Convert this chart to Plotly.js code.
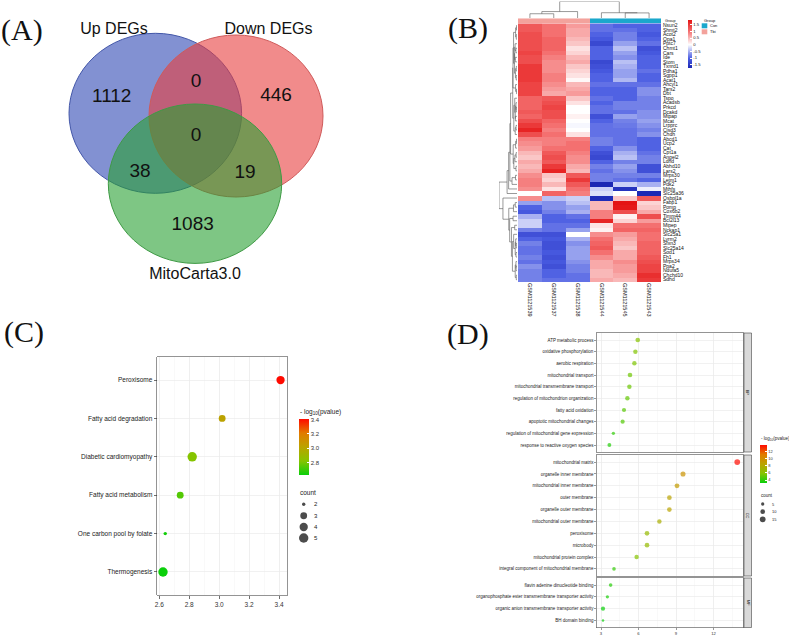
<!DOCTYPE html>
<html><head><meta charset="utf-8">
<script src="https://cdn.plot.ly/plotly-3.0.1.min.js"></script>
<style>html,body{margin:0;padding:0;background:#fff}#chart{width:789px;height:635px}</style>
</head><body><div id="chart"></div>
<script>
// ---------------- DATA ----------------
// Panel A: Venn
const vennSets = ['Up DEGs', 'Down DEGs', 'MitoCarta3.0'];
const vennRegions = ['Up only', 'Up∩Down', 'Down only', 'All three', 'Up∩Mito', 'Down∩Mito', 'Mito only'];
const vennCounts = [1112, 0, 446, 0, 38, 19, 1083];

// Panel B: heatmap
const samples = ['GSM1121539', 'GSM1121537', 'GSM1121538', 'GSM1121544', 'GSM1121545', 'GSM1121543'];
const sampleGroups = ['Tbi', 'Tbi', 'Tbi', 'Con', 'Con', 'Con'];
const genes = ['Nsun2','Shmt2','Acot2','Opa1','Pptc7','Chmt1','Cars','Ide','Stom','Txnrd1','Pdha1','Sgpp1','Acat1','Ahcyl1','Tars2','Dbt','Tspo','Acadsb','Prkcd','Dcakd','Mtpap','Mcat','Lrpprc','Cisd3','Chdh','Abcd1','Ucp2','Cat','Cpt1a','Angel2','Ldhd','Abhd10','Lars2','Mrps30','Letm1','Pdk2','Mthfs','Slc25a36','Osbpl1a','Fabp1','Pomp','Cox6b2','Timm44','Bcl2l13','Mipep','Nckap1','Slc25a1','Lyrm2','Sfxn3','Slc25a14','Sod1','Fh1','Mrps34','Ppa2','Ndufa5','Chchd10','Sdhd'];
const expr = [
 [1.2,1.0,0.7,-0.9,-1.0,-1.0],[1.2,1.0,0.6,-0.9,-0.9,-1.0],[1.3,1.0,0.6,-1.0,-0.8,-1.1],[1.3,1.1,0.5,-1.1,-0.8,-1.0],
 [1.3,1.1,0.4,-1.3,-0.6,-0.9],[1.3,1.1,0.2,-1.0,-0.4,-1.2],[1.4,1.0,0.3,-1.0,-0.6,-1.1],[1.3,0.9,0.5,-1.0,-0.7,-1.0],
 [1.3,0.8,0.6,-1.3,-0.4,-1.0],[1.5,0.8,0.4,-1.2,-0.5,-1.0],[1.5,0.8,0.3,-1.1,-0.6,-0.9],[1.5,0.9,0.2,-1.0,-0.6,-1.0],
 [1.5,0.9,0.05,-1.0,-0.45,-1.0],[1.4,0.8,0.5,-0.9,-0.9,-0.9],[1.4,0.7,0.6,-1.0,-1.0,-0.7],[1.4,0.6,0.7,-1.0,-1.0,-0.7],
 [1.1,1.2,0.4,-0.9,-1.0,-0.8],[1.1,1.3,0.2,-1.0,-0.8,-0.8],[1.1,1.4,0.0,-0.9,-0.8,-0.8],[1.2,1.3,0.0,-0.9,-0.9,-0.7],
 [1.1,1.3,0.1,-1.2,-0.6,-0.7],[1.3,1.1,0.0,-1.0,-0.8,-0.6],[1.5,1.0,-0.05,-0.9,-0.85,-0.7],[1.7,0.9,0.0,-0.9,-0.9,-0.8],
 [1.3,1.0,0.2,-0.9,-0.9,-0.7],[0.9,0.9,0.9,-0.8,-0.9,-1.0],[0.8,0.9,1.0,-0.8,-0.9,-1.0],[0.7,1.0,1.0,-1.0,-0.7,-1.0],
 [0.5,1.2,0.9,-1.2,-0.5,-0.9],[0.4,1.3,0.8,-1.3,-0.4,-0.8],[0.6,1.2,0.8,-1.0,-0.8,-0.8],[0.5,1.5,0.6,-0.8,-0.6,-1.2],
 [0.6,1.7,0.5,-0.9,-0.7,-1.2],[0.8,0.4,1.2,-0.8,-0.8,-0.8],[0.9,0.3,1.5,-0.8,-0.9,-1.0],[0.9,0.5,1.2,-1.8,-0.3,-0.5],
 [0.8,0.2,1.0,-0.3,-1.6,-0.1],[0.0,1.1,0.9,-0.2,0.0,-1.8],[0.8,-0.4,-0.3,-1.7,0.4,1.2],[-0.6,-0.7,-0.4,0.5,1.9,0.3],
 [-1.0,-0.7,-0.6,0.5,1.8,0.4],[-1.1,-0.8,-0.5,0.9,1.3,0.6],[-0.5,-1.0,-0.9,0.9,0.1,1.3],[-0.3,-1.0,-1.0,1.7,0.3,0.7],
 [-0.3,-0.9,-0.9,0.2,1.0,1.0],[-0.8,-0.9,-0.6,0.1,1.1,1.1],[-1.2,-1.2,0.0,0.8,0.7,1.0],[-1.0,-1.1,-0.5,1.0,0.6,1.0],
 [-0.8,-1.2,-0.7,1.1,0.5,1.1],[-0.9,-1.2,-0.6,1.2,0.4,1.1],[-0.9,-1.1,-0.6,1.0,0.6,1.1],[-0.8,-1.2,-0.6,0.8,0.6,1.2],
 [-0.9,-1.1,-0.7,0.6,0.8,1.3],[-0.7,-1.2,-0.8,0.6,0.7,1.4],[-0.8,-1.0,-0.8,0.5,0.7,1.4],[-0.8,-1.0,-0.9,0.5,0.6,1.6],
 [-0.8,-0.9,-0.9,0.6,0.5,1.5]
];
const heatTicks = [-1.5, -1, -0.5, 0, 0.5, 1, 1.5];

// Panel C: KEGG
const keggTerms = ['Peroxisome','Fatty acid degradation','Diabetic cardiomyopathy','Fatty acid metabolism','One carbon pool by folate','Thermogenesis'];
const keggLogP = [3.41, 3.02, 2.82, 2.74, 2.64, 2.625];
const keggCount = [4, 3, 5, 3, 2, 5];
const keggCountBreaks = [2, 3, 4, 5];
const keggTicks = [2.6, 2.8, 3.0, 3.2, 3.4];
const keggColorTicks = [2.8, 3.0, 3.2, 3.4];

// Panel D: GO
const bpTerms = ['ATP metabolic process','oxidative phosphorylation','aerobic respiration','mitochondrial transport','mitochondrial transmembrane transport','regulation of mitochondrion organization','fatty acid oxidation','apoptotic mitochondrial changes','regulation of mitochondrial gene expression','response to reactive oxygen species'];
const bpLogP = [5.94, 5.75, 5.67, 5.32, 5.27, 5.11, 4.84, 4.73, 3.99, 3.67];
const bpCount = [10, 9, 9, 10, 9, 9, 8, 8, 5, 7];
const ccTerms = ['mitochondrial matrix','organelle inner membrane','mitochondrial inner membrane','outer membrane','organelle outer membrane','mitochondrial outer membrane','peroxisome','microbody','mitochondrial protein complex','integral component of mitochondrial membrane'];
const ccLogP = [13.9, 9.56, 9.08, 8.47, 8.47, 7.67, 6.68, 6.68, 5.85, 4.04];
const ccCount = [15, 12, 11, 10, 10, 9, 10, 10, 9, 6];
const mfTerms = ['flavin adenine dinucleotide binding','organophosphate ester transmembrane transporter activity','organic anion transmembrane transporter activity','BH domain binding'];
const mfLogP = [3.77, 3.51, 3.16, 3.16];
const mfCount = [6, 5, 8, 3];
const goFacets = ['BP', 'CC', 'MF'];
const goCountBreaks = [5, 10, 15];
const goTicks = [3, 6, 9, 12];
const goColorTicks = [4, 6, 8, 10, 12];

// ---------------- GEOMETRY / STYLE ----------------
const W = 789, H = 635;
const px = v => v / W, py = v => 1 - v / H;
const FONT = 'Liberation Sans, Arial, sans-serif';
const SERIF = 'Liberation Serif, Times New Roman, serif';

const vennGeom = [
  {cx:155.3, cy:113.3, rx:86.3, ry:80, fill:'rgba(47,72,180,0.6)', line:'#4256a8'},
  {cx:236, cy:116, rx:87, ry:81, fill:'rgba(232,62,62,0.6)', line:'#cf5a5a'},
  {cx:195, cy:183.7, rx:86.7, ry:79.7, fill:'rgba(40,160,50,0.6)', line:'#3f9a45'}
];
const vennSetPos = [[114, 29.5], [268.5, 29.5], [195, 275]];
const vennRegionPos = [[111.7, 97.3], [196, 82.7], [276, 96.7], [196, 136], [140, 172.3], [245, 173.3], [192.7, 225]];

const greenRed = [[0,'#0ACF0A'],[0.25,'#86C400'],[0.5,'#BBA300'],[0.75,'#E27A00'],[1,'#FF0A00']];
const heatScale = [[0,'#1C28B4'],[0.2,'#4B5DE2'],[0.486,'#FFFFFF'],[0.78,'#F36868'],[1,'#E41414']];
const conCol = '#1BA8CC', tbiCol = '#F3A29C';

// ---------------- HELPERS ----------------
function dendro(vectors) {
  const dist = (a, b) => Math.sqrt(a.reduce((s, x, k) => s + (x - b[k]) ** 2, 0));
  let cl = vectors.map((v, i) => ({m: [i], pos: i, h: 0}));
  const P = [], Hh = [];
  let maxH = 0;
  while (cl.length > 1) {
    let best = 0, bd = Infinity;
    for (let i = 0; i < cl.length - 1; i++) {
      let d = 0;
      for (const p of cl[i].m) for (const q of cl[i + 1].m) d = Math.max(d, dist(vectors[p], vectors[q]));
      if (d < bd) { bd = d; best = i; }
    }
    const A = cl[best], B = cl[best + 1];
    const h = Math.max(bd, A.h, B.h);
    P.push(A.pos, A.pos, B.pos, B.pos, null);
    Hh.push(A.h, h, h, B.h, null);
    maxH = Math.max(maxH, h);
    cl.splice(best, 2, {m: A.m.concat(B.m), pos: (A.pos + B.pos) / 2, h});
  }
  return {pos: P, h: Hh, maxH};
}
const idx = n => Array.from({length: n}, (_, i) => i);
const rev = n => Array.from({length: n}, (_, i) => n - 1 - i);
const keggSize = c => 3.4 + 6 * Math.sqrt((c - 2) / 3);
const goSize = c => 1.48 * Math.sqrt(c);

// ---------------- TRACES ----------------
const traces = [];
const shapes = [];
const ann = [];

// Panel A
vennGeom.forEach(g => shapes.push({type:'circle', xref:'x', yref:'y', x0:g.cx-g.rx, x1:g.cx+g.rx, y0:g.cy-g.ry, y1:g.cy+g.ry,
  fillcolor:g.fill, line:{color:g.line, width:1}, layer:'below'}));
traces.push({type:'scatter', mode:'text', xaxis:'x', yaxis:'y', x:vennRegionPos.map(p=>p[0]), y:vennRegionPos.map(p=>p[1]),
  text:vennCounts.map(String), textfont:{family:FONT, size:19, color:'#111'}, hoverinfo:'skip'});
traces.push({type:'scatter', mode:'text', xaxis:'x', yaxis:'y', x:vennSetPos.map(p=>p[0]), y:vennSetPos.map(p=>p[1]),
  text:vennSets, textfont:{family:FONT, size:16, color:'#111'}, hoverinfo:'skip'});

// Panel B heatmap
traces.push({type:'heatmap', xaxis:'x2', yaxis:'y2', x:idx(samples.length), y:idx(genes.length), z:expr,
  coloraxis:'coloraxis3', hoverinfo:'skip'});
traces.push({type:'heatmap', xaxis:'x2', yaxis:'y3', x:idx(samples.length), y:[0], z:[sampleGroups.map(g => g === 'Tbi' ? 1 : 0)],
  colorscale:[[0,conCol],[0.5,conCol],[0.5,tbiCol],[1,tbiCol]], zmin:0, zmax:1, showscale:false, hoverinfo:'skip'});
const rowD = dendro(expr);
traces.push({type:'scatter', mode:'lines', xaxis:'x5', yaxis:'y2', x:rowD.h, y:rowD.pos, line:{color:'#555', width:0.6}, hoverinfo:'skip', connectgaps:false});
const cols = idx(samples.length).map(j => expr.map(r => r[j]));
const colD = dendro(cols);
traces.push({type:'scatter', mode:'lines', xaxis:'x2', yaxis:'y4', x:colD.pos, y:colD.h, line:{color:'#555', width:0.6}, hoverinfo:'skip', connectgaps:false});

// Panel C
traces.push({type:'scatter', mode:'markers', xaxis:'x6', yaxis:'y6', x:keggLogP, y:rev(keggTerms.length),
  marker:{size:keggCount.map(keggSize), color:keggLogP, coloraxis:'coloraxis', line:{width:0}, opacity:1}, hoverinfo:'skip'});

// Panel D
[[bpLogP, bpCount, 'x7', 'y7'], [ccLogP, ccCount, 'x8', 'y8'], [mfLogP, mfCount, 'x9', 'y9']].forEach(([v, c, xa, ya]) => {
  traces.push({type:'scatter', mode:'markers', xaxis:xa, yaxis:ya, x:v, y:rev(v.length),
    marker:{size:c.map(goSize), color:v, coloraxis:'coloraxis2', line:{width:0}}, hoverinfo:'skip'});
});

// Size legends
const kLegY = [504.3, 515.7, 527, 538];
traces.push({type:'scatter', mode:'markers', xaxis:'x', yaxis:'y', x:keggCountBreaks.map(()=>303.7), y:kLegY,
  marker:{size:keggCountBreaks.map(keggSize), color:'#000', line:{width:0}}, hoverinfo:'skip'});
keggCountBreaks.forEach((b, i) => ann.push({xref:'x', yref:'y', x:311.5, y:kLegY[i], text:String(b), showarrow:false, xanchor:'left', yanchor:'middle', font:{family:FONT, size:6, color:'#222'}}));
ann.push({xref:'x', yref:'y', x:297.5, y:492.5, text:'count', showarrow:false, xanchor:'left', yanchor:'middle', font:{family:FONT, size:6.5, color:'#222'}});
ann.push({xref:'x', yref:'y', x:297.5, y:412.3, text:'- log<sub>10</sub>(pvalue)', showarrow:false, xanchor:'left', yanchor:'middle', font:{family:FONT, size:6.5, color:'#222'}});

const gLegY = [504, 511.7, 519.3];
traces.push({type:'scatter', mode:'markers', xaxis:'x', yaxis:'y', x:goCountBreaks.map(()=>762.7), y:gLegY,
  marker:{size:goCountBreaks.map(goSize), color:'#000', line:{width:0}}, hoverinfo:'skip'});
goCountBreaks.forEach((b, i) => ann.push({xref:'x', yref:'y', x:769.5, y:gLegY[i], text:String(b), showarrow:false, xanchor:'left', yanchor:'middle', font:{family:FONT, size:4, color:'#222'}}));
ann.push({xref:'x', yref:'y', x:758.8, y:495.7, text:'count', showarrow:false, xanchor:'left', yanchor:'middle', font:{family:FONT, size:4.5, color:'#222'}});
ann.push({xref:'x', yref:'y', x:758.8, y:439.3, text:'- log<sub>10</sub>(pvalue)', showarrow:false, xanchor:'left', yanchor:'middle', font:{family:FONT, size:4.5, color:'#222'}});

// Group legend (heatmap)
ann.push({xref:'x', yref:'y', x:662.5, y:20.8, text:'Group', showarrow:false, xanchor:'left', yanchor:'middle', font:{family:FONT, size:3.8, color:'#111'}});
ann.push({xref:'x', yref:'y', x:701.5, y:20.5, text:'Group', showarrow:false, xanchor:'left', yanchor:'middle', font:{family:FONT, size:4, color:'#111'}});
[['Con', conCol, 23.3], ['Tbi', tbiCol, 29.3]].forEach(([t, c, y]) => {
  shapes.push({type:'rect', xref:'x', yref:'y', x0:701.7, x1:707.3, y0:y, y1:y+5, fillcolor:c, line:{width:0}});
  ann.push({xref:'x', yref:'y', x:708, y:y+2.6, text:t, showarrow:false, xanchor:'left', yanchor:'middle', font:{family:FONT, size:4, color:'#111'}});
});

// Facet strips
const stripRows = [[333, 452], [455, 576], [578, 627.5]];
goFacets.forEach((f, i) => {
  const [a, b] = stripRows[i];
  shapes.push({type:'rect', xref:'x', yref:'y', x0:744, x1:751.5, y0:a, y1:b, fillcolor:'#D9D9D9', line:{color:'#444', width:0.6}});
  ann.push({xref:'x', yref:'y', x:747.8, y:(a+b)/2, text:f, textangle:90, showarrow:false, xanchor:'center', yanchor:'middle', font:{family:FONT, size:4, color:'#1a1a1a'}});
});

// Panel letters
[['(A)', 21.5, 30], ['(B)', 467.5, 28], ['(C)', 23.5, 332], ['(D)', 467.5, 334]].forEach(([t, x, y]) =>
  ann.push({xref:'x', yref:'y', x, y, text:t, showarrow:false, xanchor:'center', yanchor:'middle', font:{family:SERIF, size:30, color:'#111'}}));

// ---------------- LAYOUT ----------------
const hidden = {visible:false, fixedrange:true};
const bwAxis = (extra) => Object.assign({showline:true, mirror:true, linecolor:'#666', linewidth:0.7, zeroline:false,
  gridcolor:'#EBEBEB', gridwidth:0.7, fixedrange:true}, extra);

const layout = {
  width:W, height:H, margin:{l:0, r:0, t:0, b:0}, paper_bgcolor:'#fff', plot_bgcolor:'rgba(0,0,0,0)',
  showlegend:false, font:{family:FONT, color:'#222'},
  xaxis:Object.assign({domain:[0,1], range:[0,W], anchor:'y'}, hidden),
  yaxis:Object.assign({domain:[0,1], range:[H,0], anchor:'x'}, hidden),
  // heatmap
  xaxis2:{domain:[px(518), px(661)], range:[-0.5, samples.length-0.5], anchor:'y2', tickmode:'array', tickvals:idx(samples.length), ticktext:samples,
    tickangle:90, ticks:'', showgrid:false, zeroline:false, showline:false, tickfont:{family:FONT, size:5.5, color:'#111'}, fixedrange:true},
  yaxis2:{domain:[py(282), py(23.3)], range:[genes.length-0.5, -0.5], anchor:'x2', side:'right', tickmode:'array', tickvals:idx(genes.length), ticktext:genes,
    ticks:'', showgrid:false, zeroline:false, showline:false, tickfont:{family:FONT, size:5, color:'#111'}, fixedrange:true, ticklabelstandoff:1},
  yaxis3:Object.assign({domain:[py(23.3), py(18.3)], range:[-0.5, 0.5], anchor:'x2'}, hidden),
  yaxis4:Object.assign({domain:[py(18), py(1.5)], range:[0, colD.maxH], anchor:'x2'}, hidden),
  xaxis5:Object.assign({domain:[px(499), px(517)], range:[rowD.maxH, 0], anchor:'y2'}, hidden),
  // KEGG
  xaxis6:bwAxis({domain:[px(157.3), px(287)], range:[2.587, 3.453], anchor:'y6', tickmode:'array', tickvals:keggTicks, ticktext:keggTicks.map(v=>v.toFixed(1)),
    ticks:'outside', ticklen:3, tickwidth:0.7, tickcolor:'#333', tickfont:{family:FONT, size:6.5, color:'#333'},
    minor:{dtick:0.1, tick0:2.6, showgrid:true, gridcolor:'#F4F4F4', gridwidth:0.5}}),
  yaxis6:bwAxis({domain:[py(595), py(357)], range:[-0.6, keggTerms.length-0.4], anchor:'x6', tickmode:'array', tickvals:rev(keggTerms.length), ticktext:keggTerms,
    ticks:'outside', ticklen:3, tickwidth:0.7, tickcolor:'#333', tickfont:{family:FONT, size:6.5, color:'#222'}}),
  // GO
  xaxis7:bwAxis({domain:[px(597), px(743)], range:[2.68, 14.36], anchor:'y7', tickmode:'array', tickvals:goTicks, showticklabels:false, ticks:'',
    minor:{dtick:1.5, tick0:0, showgrid:true, gridcolor:'#F4F4F4', gridwidth:0.5}}),
  yaxis7:bwAxis({domain:[py(452), py(333)], range:[-0.6, bpTerms.length-0.4], anchor:'x7', tickmode:'array', tickvals:rev(bpTerms.length), ticktext:bpTerms,
    ticks:'outside', ticklen:2, tickwidth:0.5, tickcolor:'#333', tickfont:{family:FONT, size:4.5, color:'#222'}}),
  xaxis8:bwAxis({domain:[px(597), px(743)], range:[2.68, 14.36], anchor:'y8', tickmode:'array', tickvals:goTicks, showticklabels:false, ticks:'',
    minor:{dtick:1.5, tick0:0, showgrid:true, gridcolor:'#F4F4F4', gridwidth:0.5}}),
  yaxis8:bwAxis({domain:[py(576), py(455)], range:[-0.6, ccTerms.length-0.4], anchor:'x8', tickmode:'array', tickvals:rev(ccTerms.length), ticktext:ccTerms,
    ticks:'outside', ticklen:2, tickwidth:0.5, tickcolor:'#333', tickfont:{family:FONT, size:4.5, color:'#222'}}),
  xaxis9:bwAxis({domain:[px(597), px(743)], range:[2.68, 14.36], anchor:'y9', tickmode:'array', tickvals:goTicks, ticktext:goTicks.map(String),
    ticks:'outside', ticklen:1.5, tickwidth:0.5, tickcolor:'#333', tickfont:{family:FONT, size:4.2, color:'#333'},
    minor:{dtick:1.5, tick0:0, showgrid:true, gridcolor:'#F4F4F4', gridwidth:0.5}}),
  yaxis9:bwAxis({domain:[py(627.5), py(578)], range:[-0.6, mfTerms.length-0.4], anchor:'x9', tickmode:'array', tickvals:rev(mfTerms.length), ticktext:mfTerms,
    ticks:'outside', ticklen:2, tickwidth:0.5, tickcolor:'#333', tickfont:{family:FONT, size:4.5, color:'#222'}}),
  coloraxis:{cmin:Math.min(...keggLogP), cmax:Math.max(...keggLogP), colorscale:greenRed,
    colorbar:{x:px(299), xanchor:'left', y:py(447), yanchor:'middle', len:56, lenmode:'pixels', thickness:10, thicknessmode:'pixels',
      xpad:0, ypad:0, outlinewidth:0, tickmode:'array', tickvals:keggColorTicks, ticktext:keggColorTicks.map(v=>v.toFixed(1)),
      ticks:'inside', ticklen:2, tickcolor:'#fff', tickfont:{family:FONT, size:6, color:'#333'}}},
  coloraxis2:{cmin:Math.min(...bpLogP, ...ccLogP, ...mfLogP), cmax:Math.max(...bpLogP, ...ccLogP, ...mfLogP), colorscale:greenRed,
    colorbar:{x:px(760), xanchor:'left', y:py(464), yanchor:'middle', len:38, lenmode:'pixels', thickness:7, thicknessmode:'pixels',
      xpad:0, ypad:0, outlinewidth:0, tickmode:'array', tickvals:goColorTicks, ticktext:goColorTicks.map(String),
      ticks:'inside', ticklen:1.5, tickcolor:'#fff', tickfont:{family:FONT, size:4, color:'#333'}}},
  coloraxis3:{cmin:-1.75, cmax:1.85, colorscale:heatScale,
    colorbar:{x:px(687.7), xanchor:'left', y:py(44), yanchor:'middle', len:48, lenmode:'pixels', thickness:4, thicknessmode:'pixels',
      xpad:0, ypad:0, outlinewidth:0, tickmode:'array', tickvals:heatTicks, ticktext:heatTicks.map(String),
      ticks:'inside', ticklen:1.5, tickcolor:'#fff', tickfont:{family:FONT, size:4.2, color:'#222'}}},
  shapes, annotations:ann
};

Plotly.newPlot('chart', traces, layout, {staticPlot:true, displayModeBar:false});
</script></body></html>
